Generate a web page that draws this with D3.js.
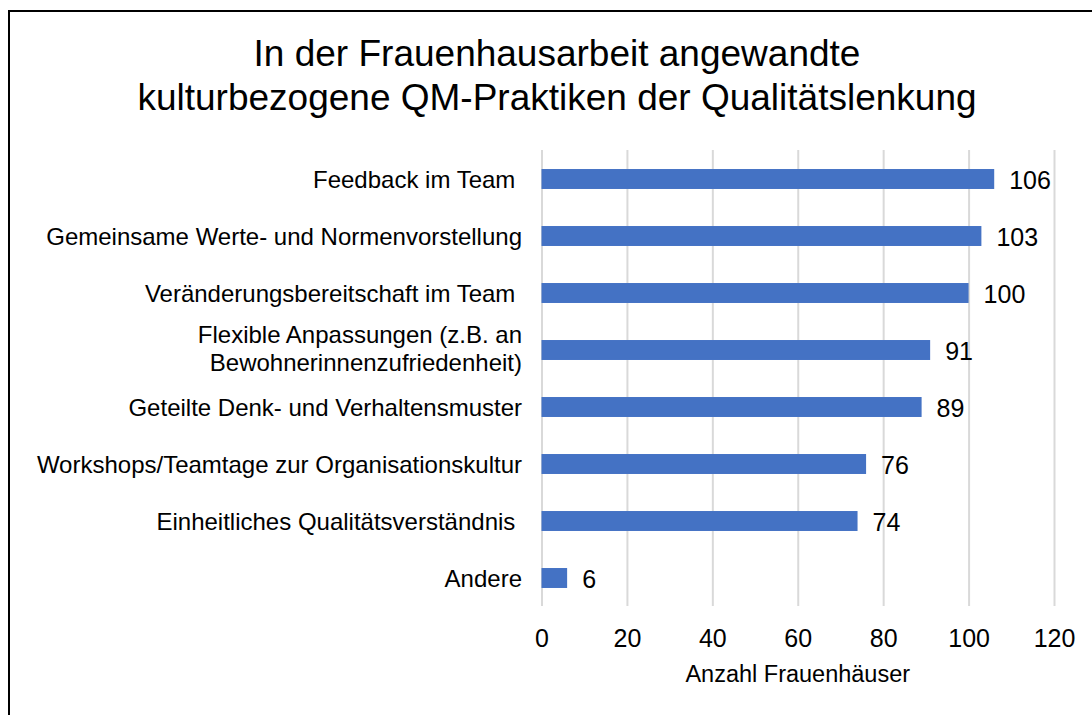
<!DOCTYPE html>
<html>
<head>
<meta charset="utf-8">
<script src="https://d3js.org/d3.v7.min.js"></script>
<style>
  body { margin: 0; background: #fff; }
  svg { font-family: "Liberation Sans", Arial, sans-serif; }
  svg text { white-space: pre; }
  .grid line { stroke: #d9d9d9; stroke-width: 2px; }
  .grid path { display: none; }
</style>
</head>
<body>
<div id="chart"></div>
<script>
const categories = [
  "Feedback im Team ",
  "Gemeinsame Werte- und Normenvorstellung",
  "Veränderungsbereitschaft im Team ",
  ["Flexible Anpassungen (z.B. an", "Bewohnerinnenzufriedenheit)"],
  "Geteilte Denk- und Verhaltensmuster",
  "Workshops/Teamtage zur Organisationskultur",
  "Einheitliches Qualitätsverständnis ",
  "Andere"
];
const values = [106, 103, 100, 91, 89, 76, 74, 6];
const xTicks = [0, 20, 40, 60, 80, 100, 120];
const titleLines = ["In der Frauenhausarbeit angewandte", "kulturbezogene QM-Praktiken der Qualitätslenkung"];
const xTitle = "Anzahl Frauenhäuser";

const W = 1092, H = 715;
const svg = d3.select("#chart").append("svg").attr("width", W).attr("height", H);

// frame
svg.append("rect")
  .attr("x", 9).attr("y", 11)
  .attr("width", 1200).attr("height", 800)
  .attr("fill", "none").attr("stroke", "#000").attr("stroke-width", 2);

svg.append("g").selectAll("text").data(titleLines).join("text")
  .attr("x", 557).attr("y", (d, i) => 66 + i * 44)
  .attr("text-anchor", "middle")
  .attr("font-size", 37)
  .attr("fill", "#000")
  .text(d => d);

const x = d3.scaleLinear().domain([0, 120]).range([541.5, 1054]);
const y = d3.scaleBand().domain(d3.range(categories.length)).range([150.5, 606.5]).paddingInner(0.65).paddingOuter(0.325);

// gridlines
svg.append("g").attr("class", "grid")
  .attr("transform", "translate(0,606)")
  .call(d3.axisBottom(x).tickValues(xTicks).tickSize(-456).tickFormat(""));

// bars
svg.append("g").selectAll("rect").data(values).join("rect")
  .attr("x", x(0))
  .attr("y", (d, i) => y(i))
  .attr("width", d => x(d) - x(0))
  .attr("height", y.bandwidth())
  .attr("fill", "#4472c4");

// value labels
svg.append("g").selectAll("text").data(values).join("text")
  .attr("x", d => x(d) + 15)
  .attr("y", (d, i) => y(i) + y.bandwidth() / 2 + 10)
  .attr("font-size", 25)
  .attr("fill", "#000")
  .text(d => d);

// category labels
const cat = svg.append("g").selectAll("text").data(categories).join("text")
  .attr("text-anchor", "end")
  .attr("font-size", 24)
  .attr("fill", "#000");
cat.each(function(d, i) {
  const lines = Array.isArray(d) ? d : [d];
  const cy = y(i) + y.bandwidth() / 2;
  const off = lines.length > 1 ? 7 : 9;
  const t = d3.select(this);
  lines.forEach((l, k) => {
    t.append("tspan")
      .attr("x", 522)
      .attr("y", cy + off + (k - (lines.length - 1) / 2) * 28)
      .text(l);
  });
});

// x tick labels
const xa = svg.append("g")
  .attr("transform", "translate(0,606)")
  .call(d3.axisBottom(x).tickValues(xTicks).tickSize(0).tickPadding(23));
xa.select(".domain").remove();
xa.selectAll("text").attr("font-size", 25).attr("font-family", "Liberation Sans, Arial, sans-serif").attr("fill", "#000");

svg.append("text")
  .attr("x", x(60)).attr("y", 682)
  .attr("text-anchor", "middle")
  .attr("font-size", 23.5)
  .attr("fill", "#000")
  .text(xTitle);
</script>
</body>
</html>
